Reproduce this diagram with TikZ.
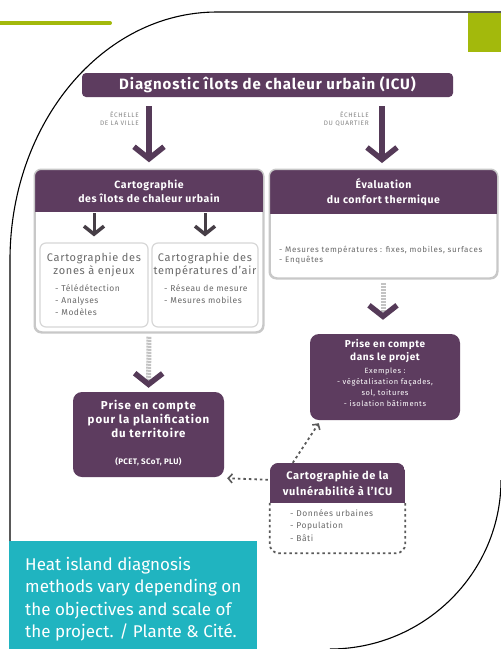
\documentclass[tikz,border=0pt]{standalone}
\usepackage{fontspec}
\setmainfont{Fira Sans}
\usetikzlibrary{arrows.meta,calc}
\definecolor{hdr}{RGB}{93,60,95}
\definecolor{leaf}{RGB}{163,185,12}
\definecolor{capteal}{RGB}{32,180,192}
\definecolor{bordergray}{RGB}{200,200,200}
\definecolor{subgray}{RGB}{215,215,215}
\definecolor{txtgray}{RGB}{105,105,105}
\definecolor{arrowdark}{RGB}{85,58,88}
\definecolor{innerdark}{RGB}{70,62,70}
\definecolor{shaftgray}{RGB}{195,195,195}
\definecolor{dotgray}{RGB}{90,90,90}
\newcommand{\fsz}[3]{\fontsize{#1}{#2}\selectfont\addfontfeature{LetterSpace=#3}}
\begin{document}
\begin{tikzpicture}[x=1pt,y=-1pt,
  bannerbox/.style={fill=hdr, rounded corners=4pt, text=white, inner sep=0pt,
    font=\bfseries\fsz{15}{16}{6}, minimum width=371pt, minimum height=24pt},
  outerbox/.style={fill=white, draw=bordergray, line width=1.5pt, rounded corners=7pt, inner sep=0pt},
  subbox/.style={fill=white, draw=subgray, line width=1.2pt, rounded corners=6pt, inner sep=0pt},
  purplebox/.style={fill=hdr, rounded corners=9pt, inner sep=0pt},
  hdrtext/.style={text=white, align=center, inner sep=0pt, font=\bfseries\fsz{10.5}{14.5}{6}},
  subtitle/.style={text=txtgray, align=center, inner sep=0pt, font=\fsz{11}{13}{6}},
  itemtext/.style={text=txtgray, align=left, inner sep=0pt, font=\fsz{8.5}{12}{6}},
  scaletext/.style={text=txtgray!80, align=right, inner sep=0pt, font=\fsz{6.5}{8}{10}},
  bigarrow/.style={draw=arrowdark, line width=5.5pt,
    -{Straight Barb[length=12pt,width=30pt,line width=5.5pt]}},
  innerarrow/.style={draw=innerdark, line width=3pt,
    -{Straight Barb[length=8pt,width=20pt,line width=3.5pt]}},
  dotshaftarrow/.style={draw=shaftgray, line width=5pt, dash pattern=on 2pt off 1pt,
    -{Straight Barb[length=11pt,width=28pt,line width=5.5pt,color=arrowdark]}},
  dotarrow/.style={draw=dotgray, line width=1.8pt, dash pattern=on 2.5pt off 3pt,
    -{Straight Barb[length=4pt,width=9pt,line width=1.6pt]}},
  dotborder/.style={draw=dotgray, line width=1.8pt, dash pattern=on 2.5pt off 3pt}
]
\useasboundingbox (0,0) rectangle (501,649);
\fill[white] (0,0) rectangle (501,649);

% decorative frame
\draw[leaf, line width=4pt, line cap=round] (-5,23) -- (110,23);
\fill[leaf] (468,13) rectangle (501,52);
\draw[black, line width=1.1pt] (505,12) -- (217,12)
  .. controls (102.7,12) and (10,123) .. (10,260) -- (10,649);
\draw[black, line width=1.1pt] (501,480)
  .. controls (501,573) and (424,649) .. (330,649);

% banner
\node[bannerbox] (banner) at (267.5,85) {Diagnostic îlots de chaleur urbain (ICU)};

% left big box
\node[outerbox, minimum width=228pt, minimum height=162pt] (lbox) at (149,251) {};
\begin{scope}
  \clip[rounded corners=7pt] (lbox.south west) rectangle (lbox.north east);
  \fill[hdr] (lbox.north west) rectangle ($(lbox.north east)+(0pt,-43pt)$);
\end{scope}
\draw[bordergray, line width=1.5pt, rounded corners=7pt] (lbox.south west) rectangle (lbox.north east);
\coordinate (lhb) at ($(lbox.north)+(0pt,-43pt)$);
\node[hdrtext] (ltitle) at ($(lbox.north)+(0pt,-22pt)$) {Cartographie\\des îlots de chaleur urbain};

% sub boxes
\node[subbox, minimum width=108pt, minimum height=84pt] (sub1) at (94,285) {};
\node[subbox, minimum width=106pt, minimum height=84pt] (sub2) at (205,285) {};
\node[subtitle] (s1title) at (94,265) {Cartographie des\\zones à enjeux};
\node[subtitle] (s2title) at (205,265) {Cartographie des\\températures d'air};
\node[itemtext, anchor=north west] (s1items) at (55,284) {- Télédétection\\- Analyses\\- Modèles};
\node[itemtext, anchor=north west] (s2items) at (164,284) {- Réseau de mesure\\- Mesures mobiles};
\draw[innerarrow, shorten <=1pt, shorten >=6pt] (sub1.north |- lhb) -- (sub1.north);
\draw[innerarrow, shorten <=1pt, shorten >=6pt] (sub2.north |- lhb) -- (sub2.north);

% right big box
\node[outerbox, minimum width=227pt, minimum height=108pt] (rbox) at (383.5,224) {};
\begin{scope}
  \clip[rounded corners=7pt] (rbox.south west) rectangle (rbox.north east);
  \fill[hdr] (rbox.north west) rectangle ($(rbox.north east)+(0pt,-45pt)$);
\end{scope}
\draw[bordergray, line width=1.5pt, rounded corners=7pt] (rbox.south west) rectangle (rbox.north east);
\node[hdrtext] (rtitle) at ($(rbox.north)+(0pt,-23pt)$) {Évaluation\\du confort thermique};
\node[itemtext, anchor=north west, font=\fsz{8}{10}{8}] (ritems) at (279,246)
  {- Mesures températures : fixes, mobiles, surfaces\\- Enquêtes};

% scale arrows
\draw[bigarrow, shorten <=9pt, shorten >=7pt] (banner.south -| lbox.north) -- (lbox.north);
\draw[bigarrow, shorten <=9pt, shorten >=7pt] (banner.south -| 382,0) -- (382,170);
\node[scaletext, anchor=east] (lscale) at (139,119) {ÉCHELLE\\DE LA VILLE};
\node[scaletext, anchor=east] (rscale) at (369,119) {ÉCHELLE\\DU QUARTIER};

% project box
\node[purplebox, minimum width=150pt, minimum height=86pt] (proj) at (385,377) {};
\node[hdrtext, font=\bfseries\fsz{10}{13}{6}] (projtitle) at (385,351.5) {Prise en compte\\dans le projet};
\node[hdrtext, font=\fsz{7.5}{11}{8}] (projex) at (385,387) {Exemples :\\- végétalisation façades,\\sol, toitures\\- isolation bâtiments};
\draw[dotshaftarrow, shorten <=4pt, shorten >=14pt] (rbox.south -| 383,0) -- (proj.north -| 383,0);

% planning box
\node[purplebox, minimum width=151pt, minimum height=85pt] (plan) at (148.5,434.5) {};
\node[hdrtext, font=\bfseries\fsz{11.5}{14}{8}] (plantitle) at (148.5,419) {Prise en compte\\pour la planification\\du territoire};
\node[hdrtext, font=\bfseries\fsz{8}{9}{4}] (planref) at (148.5,462) {(PCET, SCoT, PLU)};
\draw[dotshaftarrow, shorten <=4pt, shorten >=4pt] (lbox.south) -- (plan.north);

% vulnerability box
\node[inner sep=0pt, minimum width=135pt, minimum height=90pt] (vbox) at (337.5,508) {};
\begin{scope}
  \clip[rounded corners=9pt] (vbox.south west) rectangle (vbox.north east);
  \fill[hdr] (vbox.north west) rectangle ($(vbox.north east)+(0pt,-40pt)$);
\end{scope}
\coordinate (vhl) at ($(vbox.north west)+(0pt,-40pt)$);
\coordinate (vhr) at ($(vbox.north east)+(0pt,-40pt)$);
\draw[dotborder, rounded corners=9pt] (vhl) -- (vbox.south west) -- (vbox.south east) -- (vhr);
\node[hdrtext, font=\bfseries\fsz{11}{16}{6}] (vtitle) at (337.5,483) {Cartographie de la\\vulnérabilité à l'ICU};
\node[itemtext, anchor=north west, font=\fsz{8.5}{12.5}{6}] (vitems) at (290,509) {- Données urbaines\\- Population\\- Bâti};

% dotted connectors
\draw[dotarrow] ($(vbox.north west)+(-2pt,-17pt)$) -- ($(plan.south east)+(3pt,-1pt)$);
\draw[dotarrow] ($(vbox.north west)+(23pt,0pt)$) -- ($(proj.south west)+(9pt,-3pt)$);

% caption
\fill[capteal] (9,541) rectangle (257,649);
\node[anchor=north west, text=white, align=left, inner sep=0pt,
  font=\fontsize{17}{22.3}\selectfont] (caption) at (25,557)
  {Heat island diagnosis\\methods vary depending on\\the objectives and scale of\\the project. / Plante \& Cité.};
\end{tikzpicture}
\end{document}
